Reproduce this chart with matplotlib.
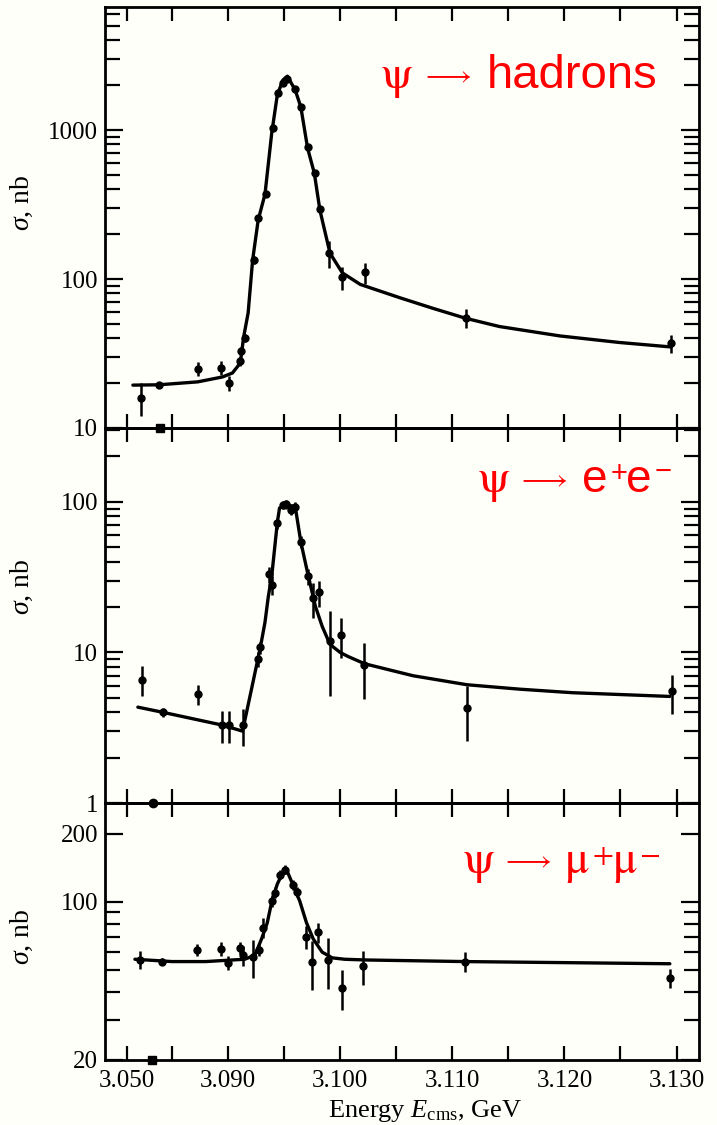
import numpy as np
import matplotlib
matplotlib.use("Agg")
import matplotlib.pyplot as plt
from matplotlib.ticker import FixedLocator, FixedFormatter, NullFormatter

plt.rcParams["font.family"] = ["Liberation Serif", "DejaVu Serif"]
plt.rcParams["mathtext.fontset"] = "custom"
plt.rcParams["mathtext.rm"] = "Liberation Serif"
plt.rcParams["mathtext.it"] = "Liberation Serif:italic"
plt.rcParams["mathtext.bf"] = "Liberation Serif:bold"

# ---------------------------------------------------------------- data (GeV, nb)
# psi -> hadrons
had_E = [3.0608, 3.0748, 3.0873, 3.0894, 3.0901, 3.0911, 3.0912, 3.0915, 3.0923,
         3.0927, 3.0934, 3.0940, 3.0945, 3.0949, 3.0953, 3.0960, 3.0965, 3.0971,
         3.0978, 3.0982, 3.0990, 3.1002, 3.1022, 3.1112, 3.1295]
had_sig = [16, 19.5, 25, 25.3, 20, 28, 33, 40, 134, 257, 370, 1030, 1770, 2070,
           2200, 1880, 1430, 765, 514, 295, 149, 103, 111, 55, 37]
had_err = [4, 1, 2.7, 2.7, 2.3, 2, 2, 2.5, 8, 12, 15, 40, 60, 60, 80, 60, 50, 30,
           20, 15, 30, 18, 18, 8, 5]
had_fit_E = [3.0545, 3.0748, 3.0873, 3.0895, 3.0904, 3.0911, 3.0914, 3.0918,
             3.0922, 3.0927, 3.0933, 3.0939, 3.0944, 3.0949, 3.0953, 3.0960,
             3.0965, 3.0971, 3.0977, 3.0982, 3.0991, 3.1002, 3.1018, 3.1053,
             3.1083, 3.1112, 3.1142, 3.1196, 3.1249, 3.1295]
had_fit = [19.4, 19.5, 20.4, 22.0, 23.4, 27.3, 40.8, 59.2, 134, 250, 370, 950,
           1720, 2166, 2300, 1854, 1427, 757, 514, 290, 149, 110, 92, 75, 63.5,
           54.5, 48, 41.5, 37.5, 35]

# psi -> e+ e-
ee_E = [3.0616, 3.0780, 3.0873, 3.0895, 3.0901, 3.0913, 3.0927, 3.0929, 3.0937,
        3.0939, 3.0944, 3.0949, 3.0952, 3.0956, 3.0960, 3.0965, 3.0971, 3.0976,
        3.0981, 3.0991, 3.1001, 3.1021, 3.1113, 3.1296]
ee_sig = [6.6, 4.0, 5.3, 3.3, 3.3, 3.3, 9.0, 10.8, 33, 28, 72, 95, 96, 88, 93,
          54, 32, 23, 25, 11.9, 13.0, 8.2, 4.3, 5.5]
ee_err = [1.5, 0.3, 0.8, 0.8, 0.8, 0.9, 1.0, 1.0, 4, 4, 6, 6, 6, 6, 6, 5, 4, 6,
          5, 6.8, 3.8, 3.3, 1.7, 1.6]
ee_fit_E = [3.0584, 3.0780, 3.0895, 3.0913, 3.0921, 3.0929, 3.0933, 3.0936,
            3.0939, 3.0944, 3.0946, 3.0953, 3.0960, 3.0965, 3.0971, 3.0978,
            3.0984, 3.0991, 3.1000, 3.1007, 3.1022, 3.1065, 3.1113, 3.1160,
            3.1207, 3.1294]
ee_fit = [4.33, 4.0, 3.29, 3.0, 5.7, 10.9, 15.8, 23.5, 31.9, 72.6, 91, 95.5,
          92.7, 54, 33.8, 20.2, 14.9, 11.3, 10.0, 9.4, 8.4, 7.0, 6.1, 5.7, 5.4,
          5.1]

# psi -> mu+ mu-
mm_E = [3.0600, 3.0772, 3.0872, 3.0894, 3.0900, 3.0911, 3.0913, 3.0922, 3.0928,
        3.0931, 3.0939, 3.0942, 3.0946, 3.0951, 3.0958, 3.0962, 3.0970, 3.0975,
        3.0980, 3.0989, 3.1002, 3.1020, 3.1111, 3.1294]
mm_sig = [55.4, 54.5, 61.4, 62, 53.8, 62.6, 58, 57, 61.4, 77, 101, 110, 132, 139,
          119, 111, 70, 54, 73.6, 55.4, 41.7, 52, 54.5, 46]
mm_err = [5, 2, 3.6, 4.5, 4, 4, 6, 11, 4, 8, 6, 6, 6, 6, 6, 6, 8, 13, 7.5, 14,
          8.5, 9, 5.5, 4.5]
mm_fit_E = [3.0561, 3.0850, 3.0880, 3.0915, 3.0924, 3.0930, 3.0935, 3.0939,
            3.0944, 3.0948, 3.0953, 3.0958, 3.0964, 3.0970, 3.0976, 3.0984,
            3.0993, 3.1004, 3.1022, 3.1111, 3.1294]
mm_fit = [55.8, 54.5, 54.5, 55.8, 58.2, 68.7, 80.7, 100, 120, 132, 136, 119, 101,
          81, 68.7, 60, 56.6, 55.8, 55.4, 54.5, 53.3]

# points sitting on the lower edge of each panel
floor_E = [3.0756, 3.0702, 3.0694]

# axis ticks
x_ticks = [3.050, 3.085, 3.090, 3.095, 3.100, 3.105, 3.110, 3.115, 3.120, 3.125, 3.130]
x_labels = ["3.050", "", "3.090", "", "3.100", "", "3.110", "", "3.120", "", "3.130"]

# ---------------------------------------------------------------- broken energy axis
# energies below E_BREAK are compressed so the low-energy points fit on the left
E_BREAK = 3.085
SQUEEZE = 0.114


def fwd(x):
    x = np.asarray(x, dtype=float)
    return np.where(x < E_BREAK, E_BREAK + (x - E_BREAK) * SQUEEZE, x)


def inv(y):
    y = np.asarray(y, dtype=float)
    return np.where(y < E_BREAK, E_BREAK + (y - E_BREAK) / SQUEEZE, y)


W, H = 717, 1125
fig = plt.figure(figsize=(W / 100, H / 100), dpi=100, facecolor="#fffffa")

left, right = 105 / W, 699 / W
edges = [7, 428, 803, 1060]  # pixel rows of the panel borders


def make_axes(i):
    top, bot = edges[i], edges[i + 1]
    return fig.add_axes([left, 1 - bot / H, right - left, (bot - top) / H])


panels = [
    dict(E=had_E, s=had_sig, e=had_err, fE=had_fit_E, f=had_fit, ylim=(10, 6700),
         major=[10, 100, 1000], labels=["10", "100", "1000"],
         minor=[m * d for d in (10, 100, 1000) for m in range(2, 10)],
         floor_marker="s", label_y=0.534),
    dict(E=ee_E, s=ee_sig, e=ee_err, fE=ee_fit_E, f=ee_fit, ylim=(1, 309),
         major=[1, 10, 100], labels=["1", "10", "100"],
         minor=[m * d for d in (1, 10, 100) for m in range(2, 10)],
         floor_marker="o", label_y=0.576),
    dict(E=mm_E, s=mm_sig, e=mm_err, fE=mm_fit_E, f=mm_fit, ylim=(20, 274),
         major=[20, 100, 200], labels=["20", "100", "200"],
         minor=[30, 40, 50, 60, 70, 80, 90],
         floor_marker="s", label_y=0.479),
]

for i, p in enumerate(panels):
    ax = make_axes(i)
    ax.set_facecolor("none")
    ax.set_xscale("function", functions=(fwd, inv))
    ax.set_yscale("log")
    ax.set_xlim(3.0327, 3.1320)
    ax.set_ylim(*p["ylim"])

    ax.plot(p["fE"], p["f"], color="black", lw=2.4, solid_capstyle="round",
            solid_joinstyle="round", zorder=3)
    ax.errorbar(p["E"], p["s"], yerr=p["e"], fmt="o", ms=5, color="black",
                ecolor="black", elinewidth=1.8, capsize=0, zorder=4)
    ax.plot([floor_E[i]], [p["ylim"][0]], marker=p["floor_marker"], ms=6,
            color="black", clip_on=False, zorder=5)

    ax.xaxis.set_major_locator(FixedLocator(x_ticks))
    ax.xaxis.set_major_formatter(FixedFormatter(x_labels))
    ax.xaxis.set_minor_locator(FixedLocator([]))
    ax.yaxis.set_major_locator(FixedLocator(p["major"]))
    ax.yaxis.set_major_formatter(FixedFormatter(p["labels"]))
    ax.yaxis.set_minor_locator(FixedLocator(p["minor"]))
    ax.yaxis.set_minor_formatter(NullFormatter())

    ax.tick_params(axis="both", which="both", direction="in", top=True,
                   right=True, width=1.6, colors="black", labelsize=18)
    ax.tick_params(axis="y", which="major", length=13, pad=5)
    ax.tick_params(axis="y", which="minor", length=11)
    ax.tick_params(axis="x", which="major", length=10, pad=7,
                   labelbottom=(i == 2))
    for sp in ax.spines.values():
        sp.set_linewidth(2)

    ax.set_ylabel(r"$\sigma$, nb", fontsize=20)
    ax.yaxis.set_label_coords(-0.118, p["label_y"])

fig.text(425 / W, 1 - 1117 / H, r"Energy $E_{\mathrm{cms}}$, GeV",
         ha="center", va="baseline", fontsize=19)

# ---------------------------------------------------------------- channel names
RED = "#ff0000"
GREEK = ["STIXGeneral", "DejaVu Serif"]
SANS = ["Liberation Sans", "DejaVu Sans"]


def put(s, x, base, size=33, family=GREEK):
    """Place red text with its left edge at pixel x and baseline at pixel row base."""
    fig.text(x / W, 1 - base / H, s, color=RED, fontsize=size, family=family,
             ha="left", va="baseline")


def arrow(x, base):
    put("⟶", x, base - 4, size=21)


# psi -> hadrons
put("ψ", 380, 88)
arrow(425, 88)
put("hadrons", 487, 88, size=34, family=SANS)

# psi -> e+ e-
put("ψ", 477, 492)
arrow(521, 492)
put("e", 582, 492, family=SANS)
put("+", 611, 482, size=21, family=SANS)
put("e", 626, 492, family=SANS)
put("−", 655, 480, size=21, family=SANS)

# psi -> mu+ mu-
put("ψ", 462, 873)
arrow(505, 873)
put("μ", 564, 873)
put("+", 593, 864, size=22)
put("μ", 612, 873)
put("−", 640, 864, size=22)

fig.savefig("out.png", dpi=100, facecolor=fig.get_facecolor())
